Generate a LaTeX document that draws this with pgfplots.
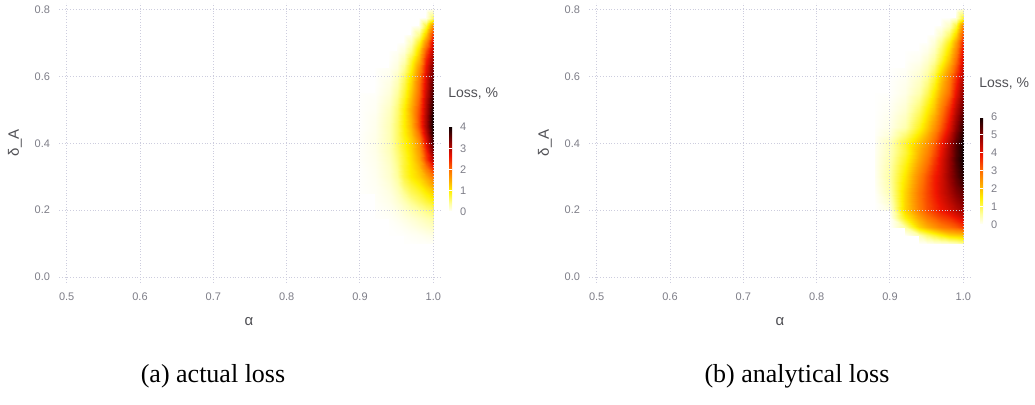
\documentclass[border=0pt]{standalone}
\usepackage{fontspec}
\setmainfont{Liberation Sans}
\newfontfamily\capfont{Liberation Serif}
\usepackage{pgfplots}
\pgfplotsset{compat=1.18}

\definecolor{tickgray}{RGB}{125,125,135}
\definecolor{labgray}{RGB}{80,80,85}
\definecolor{gridc}{RGB}{205,205,222}

\pgfplotsset{
  colorbar shift/.style={},
  heatax/.style={
    scale only axis, width=191pt, height=140pt,
    view={0}{90},
    xmin=0.4895, xmax=1.0105, ymin=-0.0179, ymax=0.8194,
    xtick={0.5,0.6,0.7,0.8,0.9,1.0}, ytick={0,0.2,0.4,0.6,0.8}, ztick=\empty,
    xmajorgrids, ymajorgrids,
    major grid style={densely dotted, gridc, line width=0.5pt},
    axis line style={draw=none},
    tick style={draw=none},
    ticklabel style={font=\fontsize{5.5}{6.5}\selectfont, text=tickgray},
    xticklabel style={yshift=-1.2pt},
    yticklabel style={xshift=-1pt},
    /pgf/number format/assume math mode=true,
    /pgf/number format/fixed, /pgf/number format/fixed zerofill,
    /pgf/number format/precision=1,
    colormap={heat}{rgb255(0cm)=(255,255,255); rgb255(2cm)=(255,255,160);
      rgb255(5cm)=(255,240,0); rgb255(7.5cm)=(255,170,0); rgb255(10cm)=(255,110,0);
      rgb255(13cm)=(240,20,0); rgb255(16.5cm)=(140,0,0); rgb255(20cm)=(15,0,0)},
    colorbar,
    colorbar shift/.style={},
    point meta min=0,
  },
  heatbar/.style={
    width=1.5pt,
    axis line style={draw=none},
    tick align=inside, major tick length=1.5pt,
    ytick style={draw=white, line width=0.5pt},
    yticklabel style={font=\fontsize{5.5}{6.5}\selectfont, text=tickgray, xshift=0.5pt},
    /pgf/number format/assume math mode=true,
    /pgf/number format/fixed zerofill=false, /pgf/number format/precision=0,
    title={Loss, \%},
    title style={at={(0,1)}, anchor=base west, inner sep=0pt, xshift=-0.5pt, yshift=8.5pt,
      font=\fontsize{7}{8}\selectfont, text=labgray},
  },
}

\begin{document}
\begin{tikzpicture}
\path[use as bounding box] (0,0) rectangle (517.5pt,202.5pt);

% (a) actual loss
\begin{axis}[heatax, at={(29.5pt,61pt)}, anchor=south west,
  point meta max=4,
  colorbar style={heatbar, at={(224.5pt,139pt)}, anchor=north west, height=42.5pt, ytick={0,1,2,3,4}}]
\addplot3[surf, shader=interp, unbounded coords=jump, mesh/cols=9, mesh/rows=29] coordinates {
(0.90,0.100,nan) (0.92,0.100,nan) (0.94,0.100,nan) (0.95,0.100,nan) (0.96,0.100,0.01) (0.97,0.100,0.01) (0.98,0.100,0.02) (0.99,0.100,0.02) (1.00,0.100,0.03)
(0.90,0.125,nan) (0.92,0.125,nan) (0.94,0.125,0.01) (0.95,0.125,0.01) (0.96,0.125,0.02) (0.97,0.125,0.04) (0.98,0.125,0.06) (0.99,0.125,0.09) (1.00,0.125,0.12)
(0.90,0.150,nan) (0.92,0.150,nan) (0.94,0.150,0.01) (0.95,0.150,0.03) (0.96,0.150,0.06) (0.97,0.150,0.10) (0.98,0.150,0.15) (0.99,0.150,0.20) (1.00,0.150,0.25)
(0.90,0.175,nan) (0.92,0.175,0.01) (0.94,0.175,0.03) (0.95,0.175,0.07) (0.96,0.175,0.12) (0.97,0.175,0.18) (0.98,0.175,0.25) (0.99,0.175,0.32) (1.00,0.175,0.40)
(0.90,0.200,nan) (0.92,0.200,0.02) (0.94,0.200,0.06) (0.95,0.200,0.12) (0.96,0.200,0.20) (0.97,0.200,0.30) (0.98,0.200,0.40) (0.99,0.200,0.50) (1.00,0.200,0.60)
(0.90,0.225,nan) (0.92,0.225,0.03) (0.94,0.225,0.09) (0.95,0.225,0.18) (0.96,0.225,0.30) (0.97,0.225,0.45) (0.98,0.225,0.60) (0.99,0.225,0.75) (1.00,0.225,0.90)
(0.90,0.250,0.01) (0.92,0.250,0.04) (0.94,0.250,0.12) (0.95,0.250,0.25) (0.96,0.250,0.45) (0.97,0.250,0.65) (0.98,0.250,0.80) (0.99,0.250,1.00) (1.00,0.250,1.20)
(0.90,0.275,0.01) (0.92,0.275,0.05) (0.94,0.275,0.16) (0.95,0.275,0.32) (0.96,0.275,0.60) (0.97,0.275,0.80) (0.98,0.275,1.00) (0.99,0.275,1.25) (1.00,0.275,1.55)
(0.90,0.300,0.01) (0.92,0.300,0.06) (0.94,0.300,0.20) (0.95,0.300,0.40) (0.96,0.300,0.75) (0.97,0.300,1.00) (0.98,0.300,1.20) (0.99,0.300,1.50) (1.00,0.300,1.90)
(0.90,0.325,0.01) (0.92,0.325,0.07) (0.94,0.325,0.22) (0.95,0.325,0.45) (0.96,0.325,0.80) (0.97,0.325,1.05) (0.98,0.325,1.35) (0.99,0.325,1.90) (1.00,0.325,2.45)
(0.90,0.350,0.02) (0.92,0.350,0.08) (0.94,0.350,0.25) (0.95,0.350,0.50) (0.96,0.350,0.80) (0.97,0.350,1.10) (0.98,0.350,1.50) (0.99,0.350,2.30) (1.00,0.350,3.00)
(0.90,0.375,0.02) (0.92,0.375,0.09) (0.94,0.375,0.28) (0.95,0.375,0.55) (0.96,0.375,0.85) (0.97,0.375,1.15) (0.98,0.375,1.60) (0.99,0.375,2.45) (1.00,0.375,3.35)
(0.90,0.400,0.02) (0.92,0.400,0.10) (0.94,0.400,0.30) (0.95,0.400,0.60) (0.96,0.400,0.90) (0.97,0.400,1.20) (0.98,0.400,1.70) (0.99,0.400,2.70) (1.00,0.400,3.70)
(0.90,0.425,0.02) (0.92,0.425,0.09) (0.94,0.425,0.30) (0.95,0.425,0.60) (0.96,0.425,0.95) (0.97,0.425,1.30) (0.98,0.425,1.95) (0.99,0.425,2.90) (1.00,0.425,3.85)
(0.90,0.450,0.01) (0.92,0.450,0.08) (0.94,0.450,0.30) (0.95,0.450,0.60) (0.96,0.450,1.00) (0.97,0.450,1.40) (0.98,0.450,2.20) (0.99,0.450,3.10) (1.00,0.450,4.00)
(0.90,0.475,0.01) (0.92,0.475,0.07) (0.94,0.475,0.28) (0.95,0.475,0.58) (0.96,0.475,1.00) (0.97,0.475,1.45) (0.98,0.475,2.25) (0.99,0.475,3.10) (1.00,0.475,4.00)
(0.90,0.500,0.01) (0.92,0.500,0.05) (0.94,0.500,0.25) (0.95,0.500,0.55) (0.96,0.500,1.00) (0.97,0.500,1.50) (0.98,0.500,2.20) (0.99,0.500,3.05) (1.00,0.500,3.90)
(0.90,0.525,0.01) (0.92,0.525,0.04) (0.94,0.525,0.20) (0.95,0.525,0.48) (0.96,0.525,0.90) (0.97,0.525,1.40) (0.98,0.525,2.10) (0.99,0.525,3.00) (1.00,0.525,3.80)
(0.90,0.550,0.01) (0.92,0.550,0.02) (0.94,0.550,0.15) (0.95,0.550,0.40) (0.96,0.550,0.80) (0.97,0.550,1.30) (0.98,0.550,2.00) (0.99,0.550,2.90) (1.00,0.550,3.70)
(0.90,0.575,nan) (0.92,0.575,0.01) (0.94,0.575,0.12) (0.95,0.575,0.32) (0.96,0.575,0.70) (0.97,0.575,1.20) (0.98,0.575,1.95) (0.99,0.575,2.80) (1.00,0.575,3.60)
(0.90,0.600,nan) (0.92,0.600,0.01) (0.94,0.600,0.08) (0.95,0.600,0.25) (0.96,0.600,0.60) (0.97,0.600,1.10) (0.98,0.600,1.85) (0.99,0.600,2.75) (1.00,0.600,3.50)
(0.90,0.625,nan) (0.92,0.625,0.01) (0.94,0.625,0.05) (0.95,0.625,0.15) (0.96,0.625,0.45) (0.97,0.625,0.95) (0.98,0.625,1.70) (0.99,0.625,2.65) (1.00,0.625,3.40)
(0.90,0.650,nan) (0.92,0.650,nan) (0.94,0.650,0.02) (0.95,0.650,0.10) (0.96,0.650,0.30) (0.97,0.650,0.80) (0.98,0.650,1.45) (0.99,0.650,2.50) (1.00,0.650,3.20)
(0.90,0.675,nan) (0.92,0.675,nan) (0.94,0.675,0.01) (0.95,0.675,0.05) (0.96,0.675,0.15) (0.97,0.675,0.50) (0.98,0.675,1.20) (0.99,0.675,2.20) (1.00,0.675,3.00)
(0.90,0.700,nan) (0.92,0.700,nan) (0.94,0.700,nan) (0.95,0.700,0.01) (0.96,0.700,0.05) (0.97,0.700,0.30) (0.98,0.700,0.90) (0.99,0.700,1.80) (1.00,0.700,2.80)
(0.90,0.725,nan) (0.92,0.725,nan) (0.94,0.725,nan) (0.95,0.725,nan) (0.96,0.725,0.02) (0.97,0.725,0.10) (0.98,0.725,0.50) (0.99,0.725,1.30) (1.00,0.725,2.40)
(0.90,0.750,nan) (0.92,0.750,nan) (0.94,0.750,nan) (0.95,0.750,nan) (0.96,0.750,nan) (0.97,0.750,0.02) (0.98,0.750,0.10) (0.99,0.750,0.80) (1.00,0.750,1.80)
(0.90,0.775,nan) (0.92,0.775,nan) (0.94,0.775,nan) (0.95,0.775,nan) (0.96,0.775,nan) (0.97,0.775,nan) (0.98,0.775,0.02) (0.99,0.775,0.10) (1.00,0.775,0.60)
(0.90,0.800,nan) (0.92,0.800,nan) (0.94,0.800,nan) (0.95,0.800,nan) (0.96,0.800,nan) (0.97,0.800,nan) (0.98,0.800,nan) (0.99,0.800,0.02) (1.00,0.800,0.10)
};
\end{axis}

% (b) analytical loss
\begin{axis}[heatax, at={(294.5pt,61pt)}, anchor=south west,
  point meta max=6,
  colorbar style={heatbar, at={(490pt,144pt)}, anchor=north west, height=54pt, ytick={0,1,2,3,4,5,6}}]
\addplot3[surf, shader=interp, unbounded coords=jump, mesh/cols=10, mesh/rows=29] coordinates {
(0.88,0.100,nan) (0.90,0.100,nan) (0.92,0.100,nan) (0.94,0.100,0.01) (0.95,0.100,0.05) (0.96,0.100,0.10) (0.97,0.100,0.15) (0.98,0.100,0.20) (0.99,0.100,0.30) (1.00,0.100,0.50)
(0.88,0.125,nan) (0.90,0.125,nan) (0.92,0.125,0.05) (0.94,0.125,0.50) (0.95,0.125,0.90) (0.96,0.125,1.20) (0.97,0.125,1.50) (0.98,0.125,1.80) (0.99,0.125,1.90) (1.00,0.125,2.00)
(0.88,0.150,nan) (0.90,0.150,0.01) (0.92,0.150,0.60) (0.94,0.150,1.80) (0.95,0.150,2.20) (0.96,0.150,2.50) (0.97,0.150,2.80) (0.98,0.150,3.00) (0.99,0.150,3.20) (1.00,0.150,3.50)
(0.88,0.175,nan) (0.90,0.175,0.05) (0.92,0.175,1.40) (0.94,0.175,2.30) (0.95,0.175,2.80) (0.96,0.175,3.10) (0.97,0.175,3.40) (0.98,0.175,3.60) (0.99,0.175,3.90) (1.00,0.175,4.20)
(0.88,0.200,0.01) (0.90,0.200,0.20) (0.92,0.200,1.80) (0.94,0.200,2.80) (0.95,0.200,3.30) (0.96,0.200,3.60) (0.97,0.200,3.90) (0.98,0.200,4.20) (0.99,0.200,4.50) (1.00,0.200,4.80)
(0.88,0.225,0.02) (0.90,0.225,0.35) (0.92,0.225,1.80) (0.94,0.225,2.85) (0.95,0.225,3.35) (0.96,0.225,3.70) (0.97,0.225,4.05) (0.98,0.225,4.40) (0.99,0.225,4.75) (1.00,0.225,5.05)
(0.88,0.250,0.05) (0.90,0.250,0.50) (0.92,0.250,1.80) (0.94,0.250,2.90) (0.95,0.250,3.40) (0.96,0.250,3.80) (0.97,0.250,4.20) (0.98,0.250,4.60) (0.99,0.250,5.00) (1.00,0.250,5.30)
(0.88,0.275,0.08) (0.90,0.275,0.55) (0.92,0.275,1.70) (0.94,0.275,2.80) (0.95,0.275,3.35) (0.96,0.275,3.80) (0.97,0.275,4.20) (0.98,0.275,4.70) (0.99,0.275,5.15) (1.00,0.275,5.55)
(0.88,0.300,0.10) (0.90,0.300,0.60) (0.92,0.300,1.60) (0.94,0.300,2.70) (0.95,0.300,3.30) (0.96,0.300,3.80) (0.97,0.300,4.20) (0.98,0.300,4.80) (0.99,0.300,5.30) (1.00,0.300,5.80)
(0.88,0.325,0.10) (0.90,0.325,0.55) (0.92,0.325,1.45) (0.94,0.325,2.50) (0.95,0.325,3.10) (0.96,0.325,3.65) (0.97,0.325,4.15) (0.98,0.325,4.80) (0.99,0.325,5.40) (1.00,0.325,5.90)
(0.88,0.350,0.10) (0.90,0.350,0.50) (0.92,0.350,1.30) (0.94,0.350,2.30) (0.95,0.350,2.90) (0.96,0.350,3.50) (0.97,0.350,4.10) (0.98,0.350,4.80) (0.99,0.350,5.50) (1.00,0.350,6.00)
(0.88,0.375,0.09) (0.90,0.375,0.45) (0.92,0.375,1.15) (0.94,0.375,2.15) (0.95,0.375,2.70) (0.96,0.375,3.30) (0.97,0.375,3.95) (0.98,0.375,4.70) (0.99,0.375,5.45) (1.00,0.375,6.00)
(0.88,0.400,0.08) (0.90,0.400,0.45) (0.92,0.400,1.20) (0.94,0.400,2.00) (0.95,0.400,2.50) (0.96,0.400,3.10) (0.97,0.400,3.80) (0.98,0.400,4.60) (0.99,0.400,5.40) (1.00,0.400,6.00)
(0.88,0.425,0.05) (0.90,0.425,0.25) (0.92,0.425,0.85) (0.94,0.425,1.65) (0.95,0.425,2.20) (0.96,0.425,2.80) (0.97,0.425,3.50) (0.98,0.425,4.30) (0.99,0.425,5.15) (1.00,0.425,5.85)
(0.88,0.450,0.03) (0.90,0.450,0.15) (0.92,0.450,0.50) (0.94,0.450,1.30) (0.95,0.450,1.90) (0.96,0.450,2.50) (0.97,0.450,3.20) (0.98,0.450,4.00) (0.99,0.450,4.90) (1.00,0.450,5.70)
(0.88,0.475,0.02) (0.90,0.475,0.12) (0.92,0.475,0.40) (0.94,0.475,1.10) (0.95,0.475,1.70) (0.96,0.475,2.25) (0.97,0.475,3.00) (0.98,0.475,3.80) (0.99,0.475,4.70) (1.00,0.475,5.50)
(0.88,0.500,0.01) (0.90,0.500,0.08) (0.92,0.500,0.30) (0.94,0.500,0.90) (0.95,0.500,1.50) (0.96,0.500,2.00) (0.97,0.500,2.80) (0.98,0.500,3.60) (0.99,0.500,4.50) (1.00,0.500,5.30)
(0.88,0.525,0.01) (0.90,0.525,0.05) (0.92,0.525,0.22) (0.94,0.525,0.70) (0.95,0.525,1.25) (0.96,0.525,1.80) (0.97,0.525,2.55) (0.98,0.525,3.30) (0.99,0.525,4.25) (1.00,0.525,5.10)
(0.88,0.550,0.01) (0.90,0.550,0.02) (0.92,0.550,0.15) (0.94,0.550,0.50) (0.95,0.550,1.00) (0.96,0.550,1.60) (0.97,0.550,2.30) (0.98,0.550,3.00) (0.99,0.550,4.00) (1.00,0.550,4.90)
(0.88,0.575,nan) (0.90,0.575,0.02) (0.92,0.575,0.12) (0.94,0.575,0.40) (0.95,0.575,0.80) (0.96,0.575,1.35) (0.97,0.575,2.10) (0.98,0.575,2.85) (0.99,0.575,3.80) (1.00,0.575,4.70)
(0.88,0.600,nan) (0.90,0.600,0.01) (0.92,0.600,0.08) (0.94,0.600,0.30) (0.95,0.600,0.60) (0.96,0.600,1.10) (0.97,0.600,1.90) (0.98,0.600,2.70) (0.99,0.600,3.60) (1.00,0.600,4.50)
(0.88,0.625,nan) (0.90,0.625,0.01) (0.92,0.625,0.05) (0.94,0.625,0.20) (0.95,0.625,0.45) (0.96,0.625,0.85) (0.97,0.625,1.55) (0.98,0.625,2.35) (0.99,0.625,3.30) (1.00,0.625,4.35)
(0.88,0.650,nan) (0.90,0.650,nan) (0.92,0.650,0.02) (0.94,0.650,0.10) (0.95,0.650,0.30) (0.96,0.650,0.60) (0.97,0.650,1.20) (0.98,0.650,2.00) (0.99,0.650,3.00) (1.00,0.650,4.20)
(0.88,0.675,nan) (0.90,0.675,nan) (0.92,0.675,0.01) (0.94,0.675,0.04) (0.95,0.675,0.15) (0.96,0.675,0.40) (0.97,0.675,0.95) (0.98,0.675,1.70) (0.99,0.675,2.70) (1.00,0.675,4.00)
(0.88,0.700,nan) (0.90,0.700,nan) (0.92,0.700,nan) (0.94,0.700,0.02) (0.95,0.700,0.05) (0.96,0.700,0.25) (0.97,0.700,0.70) (0.98,0.700,1.40) (0.99,0.700,2.40) (1.00,0.700,3.80)
(0.88,0.725,nan) (0.90,0.725,nan) (0.92,0.725,nan) (0.94,0.725,nan) (0.95,0.725,0.02) (0.96,0.725,0.08) (0.97,0.725,0.35) (0.98,0.725,0.90) (0.99,0.725,1.80) (1.00,0.725,3.30)
(0.88,0.750,nan) (0.90,0.750,nan) (0.92,0.750,nan) (0.94,0.750,nan) (0.95,0.750,nan) (0.96,0.750,0.02) (0.97,0.750,0.10) (0.98,0.750,0.40) (0.99,0.750,1.20) (1.00,0.750,2.80)
(0.88,0.775,nan) (0.90,0.775,nan) (0.92,0.775,nan) (0.94,0.775,nan) (0.95,0.775,nan) (0.96,0.775,nan) (0.97,0.775,0.02) (0.98,0.775,0.05) (0.99,0.775,0.30) (1.00,0.775,1.20)
(0.88,0.800,nan) (0.90,0.800,nan) (0.92,0.800,nan) (0.94,0.800,nan) (0.95,0.800,nan) (0.96,0.800,nan) (0.97,0.800,nan) (0.98,0.800,nan) (0.99,0.800,0.05) (1.00,0.800,0.30)
};
\end{axis}

% axis labels and captions
\node[font=\fontsize{7.5}{9}\selectfont, text=labgray] at (124.5pt,41.5pt) {α};
\node[font=\fontsize{7.5}{9}\selectfont, text=labgray, rotate=90] at (7.5pt,131pt) {δ\_A};
\node[font=\fontsize{7.5}{9}\selectfont, text=labgray] at (390pt,41.5pt) {α};
\node[font=\fontsize{7.5}{9}\selectfont, text=labgray, rotate=90] at (272.5pt,131pt) {δ\_A};
\node[font=\capfont\fontsize{13}{15}\selectfont, anchor=base] at (106.5pt,11pt) {(a) actual loss};
\node[font=\capfont\fontsize{13}{15}\selectfont, anchor=base] at (398.5pt,11pt) {(b) analytical loss};
\end{tikzpicture}
\end{document}
